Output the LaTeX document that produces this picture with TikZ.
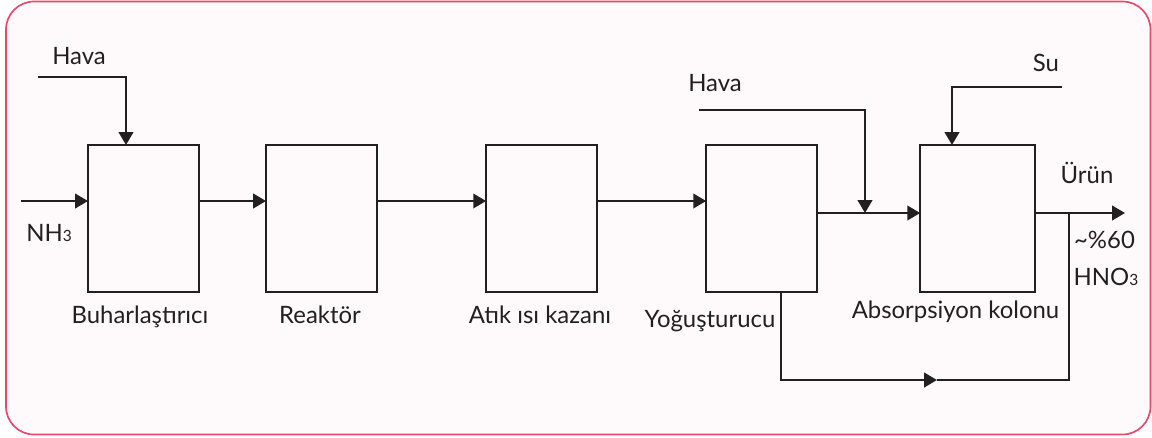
\documentclass[tikz,border=0pt]{standalone}
\usepackage{fontspec}
\setmainfont{Lato}
\usetikzlibrary{arrows.meta,positioning}
\definecolor{framepink}{HTML}{E8476E}
\definecolor{framefill}{HTML}{FEFAFB}
\definecolor{ink}{HTML}{231F20}
\newcommand{\chemsub}[1]{{\fontsize{11}{12}\selectfont #1}}

\begin{document}
\begin{tikzpicture}[
  x=0.025cm, y=-0.025cm,
  unit/.style={rectangle, draw=ink, line width=1.7pt, minimum width=2.775cm, minimum height=3.675cm, inner sep=0pt, outer sep=0pt},
  lbl/.style={anchor=base, inner sep=0pt, text=ink, font=\fontsize{17}{20}\selectfont},
  flow/.style={draw=ink, line width=1.7pt},
  arr/.style={flow, -{Triangle[length=0.32cm, width=0.36cm]}}
]
  % frame
  \useasboundingbox (0,0) rectangle (1152,437);
  \draw[framepink, fill=framefill, line width=1.2pt, rounded corners=0.7cm] (6,1.5) rectangle (1150.5,434.5);

  % units
  \node[unit] (buh) at (143.5,218.5) {};
  \node[unit, right=1.675cm of buh] (reak) {};
  \node[unit, right=2.725cm of reak] (atik) {};
  \node[unit, right=2.725cm of atik] (yog) {};
  \node[unit, right=2.575cm of yog, minimum width=2.875cm] (abs) {};

  % stream points
  \coordinate (nh3in) at (21,201);
  \coordinate (hava1in) at (38,77);
  \coordinate (hava1down) at (126,77);
  \coordinate (hava2in) at (699,110);
  \coordinate (mix) at (865,213);
  \coordinate (suin) at (1062,87);
  \coordinate (sudown) at (952,87);
  \coordinate (out) at (1125,213);
  \coordinate (split) at (1069,213);
  \coordinate (yogout) at (781,292);
  \coordinate (ret) at (937,380);

  % main line
  \draw[arr] (nh3in) -- (buh.west |- nh3in);
  \draw[arr] (buh.east |- nh3in) -- (reak.west |- nh3in);
  \draw[arr] (reak.east |- nh3in) -- (atik.west |- nh3in);
  \draw[arr] (atik.east |- nh3in) -- (yog.west |- nh3in);
  \draw[arr] (yog.east |- mix) -- (abs.west |- mix);
  \draw[arr] (abs.east |- mix) -- (out);

  % feeds
  \draw[arr] (hava1in) -- (hava1down) -- (hava1down |- buh.north);
  \draw[arr] (hava2in) -| (mix);
  \draw[arr] (suin) -- (sudown) -- (sudown |- abs.north);

  % return line
  \draw[arr] (yogout |- yog.south) |- (ret);
  \draw[flow] (ret) -| (split);

  % labels
  \node[lbl] (hava1) at (79,64) {Hava};
  \node[lbl] (nh3) at (49,241) {NH\chemsub{3}};
  \node[lbl] (lbuh) at (140,323) {Buharlaştırıcı};
  \node[lbl] (lreak) at (320,323) {Reaktör};
  \node[lbl] (latik) at (540,323) {Atık ısı kazanı};
  \node[lbl] (lyog) at (710,327) {Yoğuşturucu};
  \node[lbl] (labs) at (955.5,318) {Absorpsiyon kolonu};
  \node[lbl] (hava2) at (715,91) {Hava};
  \node[lbl] (su) at (1046,71) {Su};
  \node[lbl] (urun) at (1087,183) {Ürün};
  \node[lbl] (conc) at (1104.5,248) {\textasciitilde\%60};
  \node[lbl] (hno3) at (1106,285) {HNO\chemsub{3}};
\end{tikzpicture}
\end{document}
